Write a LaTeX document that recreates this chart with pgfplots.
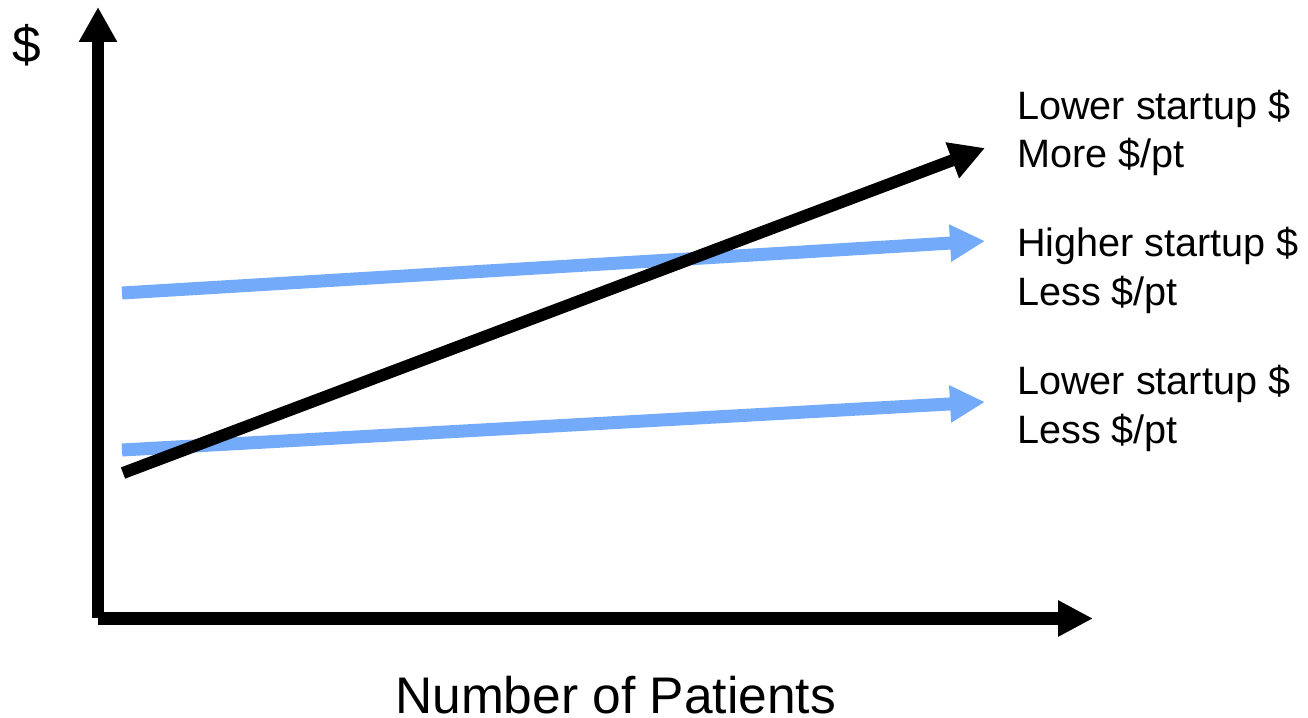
\documentclass[border=0pt]{standalone}
\usepackage{fontspec}
\setmainfont{Liberation Sans}
\usepackage{pgfplots}
\pgfplotsset{compat=1.18}
\usetikzlibrary{arrows.meta}
\definecolor{lblue}{RGB}{115,170,250}
\begin{document}
\begin{tikzpicture}
\begin{axis}[
  scale only axis, width=1308pt, height=717pt,
  xmin=0, xmax=1308, ymin=0, ymax=717, y dir=reverse,
  hide axis, clip=false,
]
% axes
\addplot[black, line width=12pt, line cap=butt, -{Triangle[length=35pt,width=36pt]}] coordinates {(98,618) (98,7)};
\addplot[black, line width=13pt, line cap=butt, -{Triangle[length=35pt,width=34pt]}] coordinates {(98,618.5) (1093,618.5)};
% series
\addplot[lblue, line width=13pt, line cap=butt, -{Triangle[length=35pt,width=35pt]}] coordinates {(122,293) (985,241)};
\addplot[lblue, line width=13pt, line cap=butt, -{Triangle[length=35pt,width=35pt]}] coordinates {(122,450) (985,402)};
\addplot[black, line width=12pt, line cap=butt, -{Triangle[length=35pt,width=36pt]}] coordinates {(123,473) (985,148)};
% labels
\node[anchor=base west, inner sep=0pt, font=\fontsize{39.6}{48}\selectfont] at (axis cs:1017,119) {Lower startup \$};
\node[anchor=base west, inner sep=0pt, font=\fontsize{39.6}{48}\selectfont] at (axis cs:1017,167) {More \$/pt};
\node[anchor=base west, inner sep=0pt, font=\fontsize{39.6}{48}\selectfont] at (axis cs:1017,256) {Higher startup \$};
\node[anchor=base west, inner sep=0pt, font=\fontsize{39.6}{48}\selectfont] at (axis cs:1017,305) {Less \$/pt};
\node[anchor=base west, inner sep=0pt, font=\fontsize{39.6}{48}\selectfont] at (axis cs:1017,394) {Lower startup \$};
\node[anchor=base west, inner sep=0pt, font=\fontsize{39.6}{48}\selectfont] at (axis cs:1017,443) {Less \$/pt};
\node[anchor=base west, inner sep=0pt, font=\fontsize{51.5}{60}\selectfont] at (axis cs:12,63) {\$};
\node[anchor=base west, inner sep=0pt, font=\fontsize{51.5}{60}\selectfont] at (axis cs:395,713) {Number of Patients};
\coordinate (bl) at (axis cs:0,717);
\coordinate (tr) at (axis cs:1308,0);
\end{axis}
\pgfresetboundingbox
\path (bl) rectangle (tr);
\end{tikzpicture}
\end{document}
